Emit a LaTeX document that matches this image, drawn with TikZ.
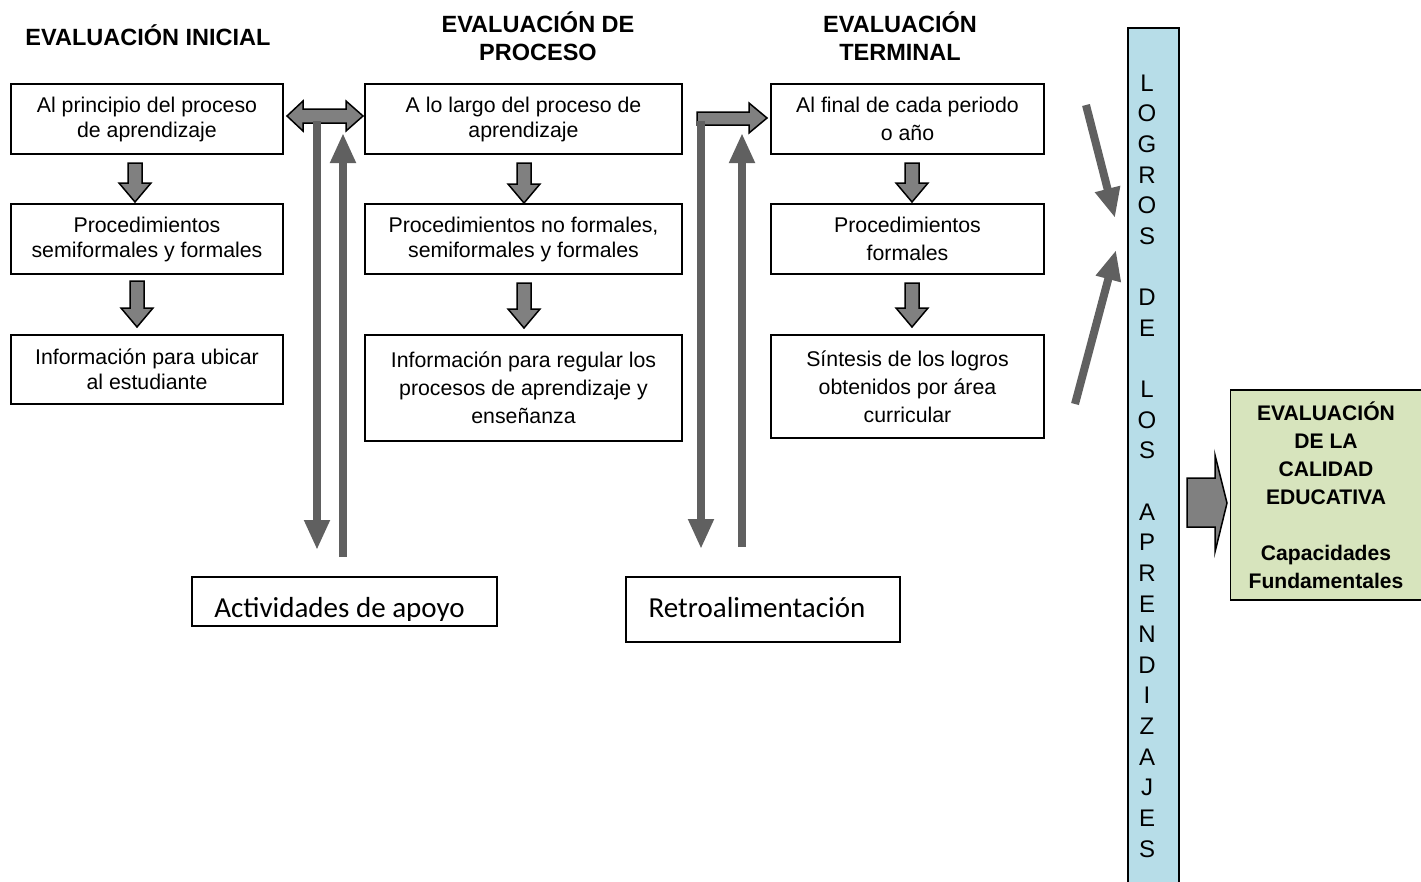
\documentclass[tikz,border=0pt]{standalone}
\usepackage{fontspec}
\setmainfont{Liberation Sans}
\newfontfamily\calfont{Carlito}
\usetikzlibrary{arrows.meta}
\definecolor{blkgray}{RGB}{128,128,128}
\definecolor{lngray}{RGB}{96,96,96}
\definecolor{barblue}{RGB}{183,221,232}
\definecolor{boxgreen}{RGB}{215,228,189}
\newcommand\downblk[3]{\draw[blk] (#1-7,#2) -- (#1+7,#2) -- (#1+7,#3-19) -- (#1+16,#3-19) -- (#1,#3) -- (#1-16,#3-19) -- (#1-7,#3-19) -- cycle;}
\begin{document}
\begin{tikzpicture}[x=1pt,y=-1pt,
  box/.style={draw, line width=1.8pt, align=center, inner sep=0pt, font=\fontsize{21.3}{25}\selectfont},
  boxw/.style={box, font=\fontsize{21.3}{28}\selectfont},
  head/.style={font=\bfseries\fontsize{23.5}{28}\selectfont, align=center, inner sep=0pt},
  blk/.style={draw=black, line width=1.5pt, fill=blkgray, line join=miter},
  lnarrow/.style={draw=lngray, line width=8pt, -{Triangle[width=24pt,length=30pt]}},
  calbox/.style={draw, line width=1.8pt, inner sep=0pt, font=\calfont\fontsize{29}{34}\selectfont}]
\useasboundingbox (0,0) rectangle (1421,881);

% headings
\node[head, anchor=base] (h1) at (148,45) {EVALUACIÓN INICIAL};
\node[head] (h2) at (538,36) {EVALUACIÓN DE\\PROCESO};
\node[head] (h3) at (900,36) {EVALUACIÓN\\TERMINAL};

% column 1
\node[box, minimum width=272pt, minimum height=70pt] (a1) at (147,119) {Al principio del proceso\\de aprendizaje};
\node[box, minimum width=272pt, minimum height=70pt] (a2) at (147,239) {Procedimientos\\semiformales y formales};
\node[box, minimum width=272pt, minimum height=69pt] (a3) at (147,369.5) {Información para ubicar\\al estudiante};
% column 2
\node[box, minimum width=317pt, minimum height=70pt] (b1) at (523.5,119) {A lo largo del proceso de\\aprendizaje};
\node[box, minimum width=317pt, minimum height=70pt] (b2) at (523.5,239) {Procedimientos no formales,\\semiformales y formales};
\node[boxw, minimum width=317pt, minimum height=106pt] (b3) at (523.5,388) {Información para regular los\\procesos de aprendizaje y\\enseñanza};
% column 3
\node[boxw, minimum width=273pt, minimum height=70pt] (c1) at (907.5,119) {Al final de cada periodo\\o año};
\node[boxw, minimum width=273pt, minimum height=70pt] (c2) at (907.5,239) {Procedimientos\\formales};
\node[boxw, minimum width=273pt, minimum height=103pt] (c3) at (907.5,386.5) {Síntesis de los logros\\obtenidos por área\\curricular};

% bottom boxes
\node[calbox, minimum width=305pt, minimum height=49pt] (act) at (344.5,601.5) {};
\begin{scope}
\clip (192,577) rectangle (497,620);
\node[inner sep=0pt, anchor=base, font=\calfont\fontsize{29}{34}\selectfont] (acttext) at (339.5,617) {Actividades de apoyo};
\end{scope}
\node[calbox, minimum width=274pt, minimum height=65pt] (retro) at (763,609.5) {};
\node[inner sep=0pt, font=\calfont\fontsize{29}{34}\selectfont] (retrotext) at (757,608) {Retroalimentación};

% down block arrows
\downblk{135}{163}{202}
\downblk{137}{281}{327}
\downblk{524}{163}{203}
\downblk{524}{283}{328}
\downblk{912}{163}{202}
\downblk{912}{283}{327}

% double arrow and right arrow
\draw[blk] (287,116) -- (303,101) -- (303,109) -- (346,109) -- (346,101) -- (363,116) -- (346,131) -- (346,123) -- (303,123) -- (303,131) -- cycle;
\draw[blk] (697,112) -- (749,112) -- (749,103) -- (767,118) -- (749,133) -- (749,125) -- (697,125) -- cycle;

% loop lines
\coordinate (l1top) at (317,121);
\coordinate (l1bot) at (317,550);
\coordinate (r1bot) at (343,557);
\coordinate (r1top) at (343,133);
\coordinate (l2top) at (701,121);
\coordinate (l2bot) at (701,549);
\coordinate (r2bot) at (742,547);
\coordinate (r2top) at (742,133);
\draw[lnarrow] (l1top) -- (l1bot);
\draw[lnarrow] (r1bot) -- (r1top);
\draw[lnarrow] (l2top) -- (l2bot);
\draw[lnarrow] (r2bot) -- (r2top);

% logros bar
\path[fill=barblue, draw=black, line width=1.8pt] (1128,28) rectangle (1179,900);
\node[inner sep=0pt, align=center, font=\fontsize{24}{30.64}\selectfont] (logros) at (1147,466) {L\\O\\G\\R\\O\\S\\[30.64pt]D\\E\\[30.64pt]L\\O\\S\\[30.64pt]A\\P\\R\\E\\N\\D\\I\\Z\\A\\J\\E\\S};

% diagonal arrows
\coordinate (d1s) at (1086,105);
\coordinate (d1e) at (1115,218);
\coordinate (d2s) at (1075,404);
\coordinate (d2e) at (1116,250);
\draw[lnarrow] (d1s) -- (d1e);
\draw[lnarrow] (d2s) -- (d2e);

% final block arrow and green box
\draw[blk] (1187,478) -- (1215,478) -- (1215,455) -- (1227,503) -- (1215,552) -- (1215,527) -- (1187,527) -- cycle;
\node[draw, fill=boxgreen, line width=1.8pt, minimum width=191pt, minimum height=210pt, inner sep=0pt, align=center, font=\bfseries\fontsize{21.1}{28}\selectfont] (cal) at (1326,495) {EVALUACIÓN\\DE LA\\CALIDAD\\EDUCATIVA\\[28pt]Capacidades\\Fundamentales};
\end{tikzpicture}
\end{document}
